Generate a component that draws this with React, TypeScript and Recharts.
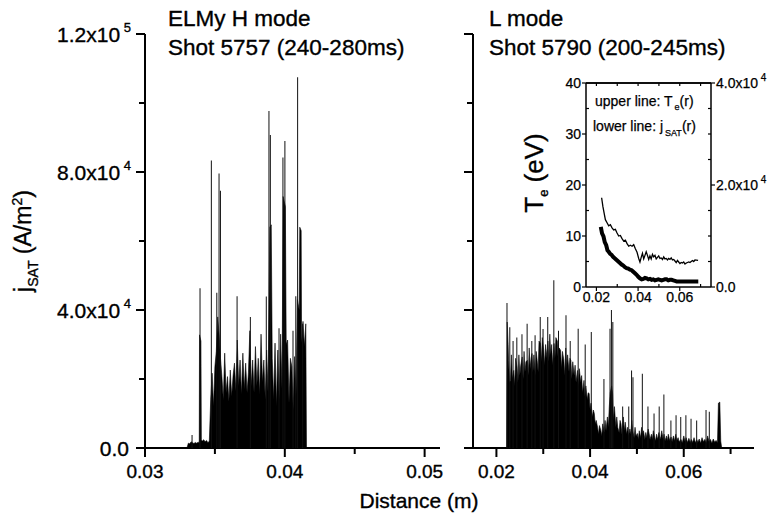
import React from 'react';
import { ComposedChart, Area, Bar, Line, XAxis, YAxis, ReferenceLine } from 'recharts';

const FONT = '"Liberation Sans", Arial, Helvetica, sans-serif';
// the scanned figure's lettering is a little heavier than plain Liberation Sans
const INK = { fill: '#000', stroke: '#000', strokeWidth: 0.35 };

// ELMy H mode, shot 5757: solid body of the jSAT trace [distance (m), A/m2]
const hBase: [number, number][] = [
  [0.033, 0], [0.0331, 1400], [0.0332, 1200], [0.0333, 1800], [0.0334, 1500], [0.0335, 1300],
  [0.0336, 1600], [0.0337, 1400], [0.0338, 1700], [0.03388, 1500], [0.0339, 32800], [0.034, 31000],
  [0.03403, 2300], [0.0341, 2000], [0.0342, 2400], [0.0343, 1800], [0.0344, 2200], [0.0345, 1500],
  [0.0346, 2000], [0.0347, 14000], [0.0348, 21700], [0.0349, 12000], [0.035, 23600], [0.0351, 28000],
  [0.0352, 38000], [0.0353, 33000], [0.0354, 26000], [0.0355, 20700], [0.0356, 14000], [0.0357, 27500],
  [0.0358, 16000], [0.0359, 20700], [0.036, 13500], [0.0361, 22600], [0.0362, 15000], [0.0363, 21000],
  [0.0364, 24600], [0.0365, 16500], [0.0366, 31300], [0.0367, 18000], [0.0368, 25500], [0.0369, 15500],
  [0.037, 27500], [0.0371, 17000], [0.0372, 24600], [0.0373, 16000], [0.0374, 22000], [0.0375, 34000],
  [0.0376, 18000], [0.0377, 25500], [0.0378, 16000], [0.0379, 29400], [0.038, 18000], [0.0381, 26000],
  [0.0382, 15500], [0.0383, 33000], [0.0384, 19000], [0.0385, 25500], [0.0386, 14000], [0.0387, 28400],
  [0.0388, 16000], [0.03893, 64000], [0.03903, 64700], [0.0391, 26000], [0.0392, 14000], [0.0393, 30400],
  [0.0394, 12000], [0.0395, 28400], [0.0396, 14000], [0.0397, 33000], [0.0398, 17000], [0.03988, 72900],
  [0.04004, 70000], [0.0401, 30000], [0.0402, 31300], [0.0403, 13000], [0.0404, 26000], [0.0405, 23600],
  [0.0406, 11000], [0.0407, 26500], [0.0408, 15000], [0.0409, 43000], [0.04103, 40000], [0.04107, 64000],
  [0.04117, 63000], [0.0412, 30400], [0.0413, 36700], [0.0414, 29400], [0.0415, 36000], [0.04155, 0],
];

// thin single-sample spikes on top of the body
const hSpikes: [number, number][] = [
  [0.03338, 3800], [0.03395, 46300], [0.03476, 83300], [0.03515, 45000], [0.03531, 79600],
  [0.03541, 74600], [0.0366, 44000], [0.03755, 38000], [0.03869, 43900], [0.03888, 97700],
  [0.03898, 90700], [0.0396, 34700], [0.03988, 84200], [0.04002, 89000], [0.0406, 34000],
  [0.0408, 44000], [0.04093, 107500], [0.04129, 36000],
];

// L mode, shot 5790
const lBase: [number, number][] = [
  [0.02218, 0], [0.0223, 36500], [0.0225, 30000], [0.0226, 25400], [0.0228, 19000], [0.023, 19600],
  [0.0232, 27000], [0.0234, 20000], [0.0237, 22500], [0.0239, 18000], [0.0241, 26000], [0.0244, 23500],
  [0.0246, 19000], [0.0248, 27000], [0.025, 21000], [0.0252, 24000], [0.0255, 26400], [0.0257, 20000],
  [0.0259, 28000], [0.0261, 22000], [0.0263, 25000], [0.0266, 25400], [0.0268, 21000], [0.027, 29000],
  [0.0272, 23000], [0.0274, 26000], [0.0276, 27400], [0.0278, 22000], [0.028, 27000], [0.0283, 21000],
  [0.0285, 28000], [0.0287, 25400], [0.0289, 22000], [0.0291, 31000], [0.0294, 30300], [0.0296, 25000],
  [0.0298, 32000], [0.0301, 28300], [0.0303, 24000], [0.0305, 30000], [0.0308, 26000], [0.031, 31000],
  [0.0312, 25000], [0.0314, 33000], [0.0316, 27000], [0.0318, 30000], [0.032, 24000], [0.0323, 30300],
  [0.0325, 26000], [0.0327, 32000], [0.033, 31000], [0.0332, 25000], [0.0334, 29000], [0.0337, 28300],
  [0.0339, 23000], [0.0341, 28000], [0.0344, 25400], [0.0346, 21000], [0.0348, 29000], [0.035, 23000],
  [0.0352, 27000], [0.0355, 22000], [0.0357, 26000], [0.0359, 25400], [0.0361, 20000], [0.0363, 25000],
  [0.0366, 21000], [0.0368, 24000], [0.037, 19000], [0.0373, 22500], [0.0375, 18000], [0.0377, 23000],
  [0.038, 19000], [0.0382, 21000], [0.0384, 16000], [0.0387, 19600], [0.0389, 15000], [0.0391, 18000],
  [0.0394, 14000], [0.0396, 16000], [0.0398, 15800], [0.04, 11000], [0.0402, 13000], [0.0405, 9000],
  [0.0407, 11000], [0.0409, 10000], [0.0411, 7000], [0.0413, 8000], [0.0416, 6000], [0.0418, 4000],
  [0.042, 6500], [0.0423, 5100], [0.0425, 3500], [0.0427, 7000], [0.043, 4500], [0.0432, 8000],
  [0.0434, 5000], [0.0437, 9000], [0.0439, 6000], [0.0441, 12000], [0.0443, 16000], [0.0446, 18000],
  [0.0448, 15800], [0.045, 8000], [0.0452, 12000], [0.0455, 6000], [0.0457, 9000], [0.0459, 6000],
  [0.0462, 4500], [0.0464, 8000], [0.0466, 7000], [0.0468, 4000], [0.0471, 9000], [0.0473, 5000],
  [0.0475, 7500], [0.0478, 4000], [0.048, 6000], [0.0482, 3500], [0.0485, 5500], [0.0487, 4000],
  [0.0489, 8000], [0.0491, 5000], [0.0494, 3000], [0.0496, 6000], [0.0498, 3500], [0.0501, 4200],
  [0.0503, 2500], [0.0505, 5000], [0.0508, 3000], [0.051, 6000], [0.0512, 4000], [0.0514, 5000],
  [0.0517, 2500], [0.0519, 4500], [0.0521, 3000], [0.0524, 5500], [0.0526, 4200], [0.0528, 2500],
  [0.0531, 4000], [0.0533, 2500], [0.0535, 5000], [0.0537, 3700], [0.054, 2000], [0.0542, 4000],
  [0.0544, 2500], [0.0547, 4500], [0.0549, 2500], [0.0551, 3200], [0.0553, 5000], [0.0556, 2500],
  [0.0558, 4000], [0.056, 2000], [0.0563, 3500], [0.0565, 2000], [0.0567, 4000], [0.057, 2200],
  [0.0573, 3200], [0.0575, 1800], [0.0578, 3500], [0.058, 2000], [0.0583, 4000], [0.0585, 2200],
  [0.0588, 3000], [0.059, 1800], [0.0594, 2500], [0.0597, 1500], [0.06, 3500], [0.0603, 1800],
  [0.0605, 3000], [0.0608, 1600], [0.0611, 2800], [0.0614, 1500], [0.0616, 2500], [0.0619, 1600],
  [0.0622, 3000], [0.0625, 1500], [0.0628, 2400], [0.063, 1600], [0.0633, 2600], [0.0636, 1400],
  [0.0639, 3000], [0.0642, 1800], [0.0645, 2500], [0.0648, 1600], [0.0651, 3500], [0.0654, 1800],
  [0.0657, 2500], [0.066, 1400], [0.0663, 2600], [0.0666, 1700], [0.0669, 2200], [0.0672, 1500],
  [0.0674, 13000], [0.0677, 13300], [0.0679, 2000], [0.0681, 0],
];

const lSpikes: [number, number][] = [
  [0.0223, 42000], [0.0229, 35000], [0.0236, 31000], [0.0244, 32000], [0.0255, 33000], [0.0266, 36000],
  [0.0276, 31000], [0.0283, 32700], [0.0294, 38000], [0.03, 34500], [0.031, 38000], [0.0323, 48600],
  [0.0333, 34000], [0.0349, 38500], [0.0358, 31000], [0.0375, 34600], [0.039, 30000], [0.0403, 33600],
  [0.043, 20000], [0.0443, 34600], [0.0446, 40000], [0.0449, 36500], [0.047, 12000], [0.0483, 12000],
  [0.0489, 22500], [0.0492, 20500], [0.0512, 21500], [0.0524, 12000], [0.0537, 10000], [0.0548, 12000],
  [0.0558, 15500], [0.0573, 8000], [0.0584, 9500], [0.0594, 9000], [0.0605, 9500], [0.0616, 8500],
  [0.0628, 8000], [0.0648, 11000], [0.0655, 10500],
];

// inset: radial profiles, Te in eV (left axis), jSAT in A/m2 (right axis)
const teProfile: [number, number][] = [
  [0.0225, 17.5], [0.0231, 15.8], [0.0237, 14.5], [0.0243, 13.2], [0.0251, 12.6], [0.0259, 12.0],
  [0.0267, 12.2], [0.0275, 11.6], [0.0283, 11.2], [0.0291, 11.3], [0.0299, 10.6], [0.0307, 10.0],
  [0.0315, 10.1], [0.0323, 9.5], [0.0331, 9.0], [0.0339, 9.2], [0.0347, 8.5], [0.0355, 8.0],
  [0.0363, 8.2], [0.0371, 8.0], [0.0379, 8.3], [0.0387, 7.5], [0.0395, 6.8], [0.0403, 5.6],
  [0.0409, 4.9], [0.0415, 5.8], [0.0421, 6.6], [0.0427, 5.5], [0.0433, 6.2], [0.0439, 6.9],
  [0.0445, 6.2], [0.0451, 5.4], [0.0457, 6.1], [0.0463, 5.5], [0.0469, 6.4], [0.0475, 5.9],
  [0.0481, 6.2], [0.0487, 5.5], [0.0493, 5.8], [0.0499, 6.1], [0.0505, 5.6], [0.0511, 5.7],
  [0.0517, 5.4], [0.0523, 5.9], [0.0529, 5.5], [0.0535, 5.6], [0.0541, 5.3], [0.0547, 5.6],
  [0.0553, 5.4], [0.0559, 5.7], [0.0565, 5.3], [0.0571, 5.4], [0.0577, 5.1], [0.0583, 4.8],
  [0.0589, 5.2], [0.0595, 4.9], [0.0601, 4.6], [0.0607, 4.8], [0.0613, 4.7], [0.0619, 4.9],
  [0.0625, 4.5], [0.0631, 4.7], [0.0637, 4.8], [0.0643, 4.9], [0.0649, 4.8], [0.0655, 5.0],
  [0.0661, 5.2], [0.0667, 5.0], [0.0673, 5.3], [0.0688, 5.2],
];

const jsatProfile: [number, number][] = [
  [0.0221, 11800], [0.0227, 10500], [0.0234, 9900], [0.024, 8800], [0.0247, 8200], [0.0253, 7200],
  [0.0259, 6900], [0.0266, 6500], [0.0273, 6300], [0.028, 5900], [0.0289, 5600], [0.0297, 5300],
  [0.0305, 5000], [0.0313, 4700], [0.0321, 4400], [0.0329, 4200], [0.0337, 3900], [0.0345, 3700],
  [0.0353, 3600], [0.0361, 3400], [0.0369, 3300], [0.0377, 3000], [0.0385, 2700], [0.0393, 2400],
  [0.0401, 2000], [0.0409, 1700], [0.0417, 1500], [0.0425, 1600], [0.0433, 1800], [0.0441, 1700],
  [0.0449, 1500], [0.0457, 1600], [0.0465, 1400], [0.0473, 1500], [0.0481, 1300], [0.0489, 1400],
  [0.0497, 1500], [0.0505, 1400], [0.0513, 1300], [0.0521, 1400], [0.0529, 1500], [0.0537, 1500],
  [0.0545, 1300], [0.0553, 1400], [0.0561, 1400], [0.0569, 1300], [0.0577, 1200], [0.0585, 1100],
  [0.0601, 1100], [0.0617, 1100], [0.0633, 1100], [0.0649, 1100], [0.0665, 1100], [0.0681, 1100],
  [0.0689, 1100],
];

const mainYTicks = [0, 20000, 40000, 60000, 80000, 100000, 120000];
const hXTicks = [0.03, 0.035, 0.04, 0.045, 0.05];
const hXLabels = [0.03, 0.04, 0.05];
const lXTicks = [0.02, 0.03, 0.04, 0.05, 0.06, 0.07];
const lXLabels = [0.02, 0.04, 0.06];
const insetTeTicks = [0, 5, 10, 15, 20, 25, 30, 35, 40];
const insetJTicks = [0, 5000, 10000, 15000, 20000, 25000, 30000, 35000, 40000];
const insetXTicks = [0.02, 0.03, 0.04, 0.05, 0.06, 0.07];
const insetXLabels = [0.02, 0.04, 0.06];

const rows = (pts: [number, number][]) => pts.map(([x, v]) => ({ x, v }));
const near = (list: number[], v: number) => list.some((t) => Math.abs(t - v) < 1e-9);

// "1.2x10^5" style label parts
function sci(v: number): [string, string] {
  if (v === 0) return ['0.0', ''];
  const e = Math.floor(Math.log10(v) + 1e-9);
  return [(v / Math.pow(10, e)).toFixed(1) + 'x10', String(e)];
}

function MainYTick(props: any) {
  const { x, y, payload, labels } = props;
  const v = payload.value;
  const major = v % 40000 === 0;
  const [m, e] = sci(v);
  return (
    <g>
      <line x1={x} x2={x - (major ? 9 : 6)} y1={y} y2={y} stroke="#000" strokeWidth={2} />
      {labels && major && (
        <text x={x - (e ? 14 : 16)} y={y + 8} textAnchor="end" fontSize={21} fontFamily={FONT} {...INK}>
          {m}
          {e && (
            <tspan dy={-10} fontSize={13}>
              {' ' + e}
            </tspan>
          )}
        </text>
      )}
    </g>
  );
}

function MainXTick(props: any) {
  const { x, y, payload, labels } = props;
  const major = near(labels, payload.value);
  return (
    <g>
      <line x1={x} x2={x} y1={y} y2={y + (major ? 9 : 6)} stroke="#000" strokeWidth={2} />
      {major && (
        <text x={x} y={y + 30} textAnchor="middle" fontSize={19} fontFamily={FONT} {...INK}>
          {payload.value.toFixed(2)}
        </text>
      )}
    </g>
  );
}

function InsetLeftTick(props: any) {
  const { x, y, payload } = props;
  const major = payload.value % 10 === 0;
  return (
    <g>
      <line x1={x} x2={major ? x - 4 : x + 3} y1={y} y2={y} stroke="#000" strokeWidth={1.2} />
      {major && (
        <text x={x - 5} y={y + 5} textAnchor="end" fontSize={14} fontFamily={FONT} {...INK} strokeWidth={0.25}>
          {payload.value}
        </text>
      )}
    </g>
  );
}

function InsetRightTick(props: any) {
  const { x, y, payload } = props;
  const major = payload.value % 20000 === 0;
  const [m, e] = sci(payload.value);
  return (
    <g>
      <line x1={x} x2={major ? x + 4 : x - 3} y1={y} y2={y} stroke="#000" strokeWidth={1.2} />
      {major && (
        <text x={x + 5} y={y + 5} textAnchor="start" fontSize={14} fontFamily={FONT} {...INK} strokeWidth={0.25}>
          {m}
          {e && (
            <tspan dy={-7} fontSize={10}>
              {' ' + e}
            </tspan>
          )}
        </text>
      )}
    </g>
  );
}

function InsetXTick(props: any) {
  const { x, y, payload } = props;
  const major = near(insetXLabels, payload.value);
  return (
    <g>
      <line x1={x} x2={x} y1={y} y2={major ? y + 4 : y - 3} stroke="#000" strokeWidth={1.2} />
      {major && (
        <text x={x} y={y + 15} textAnchor="middle" fontSize={14} fontFamily={FONT} {...INK} strokeWidth={0.25}>
          {payload.value.toFixed(2)}
        </text>
      )}
    </g>
  );
}

// small inward ticks along the top edge of the inset box
function InsetTopTick(props: any) {
  const { x, y } = props;
  return <line x1={x} x2={x} y1={y} y2={y + 3} stroke="#000" strokeWidth={1.2} />;
}

type PanelProps = {
  left: number;
  width: number;
  yAxisWidth: number;
  marginLeft: number;
  marginRight: number;
  domain: [number, number];
  xTicks: number[];
  xLabels: number[];
  yLabels: boolean;
  base: [number, number][];
  spikes: [number, number][];
};

function SpikePanel(p: PanelProps) {
  const H = 526;
  return (
    <>
      <div style={{ position: 'absolute', left: p.left, top: 0 }}>
        <ComposedChart
          width={p.width}
          height={H}
          data={rows(p.base)}
          margin={{ top: 34, right: p.marginRight, bottom: 38, left: p.marginLeft }}
        >
          <XAxis
            dataKey="x"
            type="number"
            domain={p.domain}
            allowDataOverflow
            ticks={p.xTicks}
            interval={0}
            height={40}
            tickSize={0}
            tickMargin={0}
            tickLine={false}
            axisLine={{ stroke: '#000', strokeWidth: 2 }}
            tick={(t: any) => <MainXTick {...t} labels={p.xLabels} />}
          />
          <YAxis
            type="number"
            domain={[0, 120000]}
            allowDataOverflow
            ticks={mainYTicks}
            interval={0}
            width={p.yAxisWidth}
            tickSize={0}
            tickMargin={0}
            tickLine={false}
            axisLine={{ stroke: '#000', strokeWidth: 2 }}
            tick={(t: any) => <MainYTick {...t} labels={p.yLabels} />}
          />
          <Area
            dataKey="v"
            type="linear"
            stroke="#000"
            strokeWidth={0.6}
            fill="#000"
            fillOpacity={1}
            dot={false}
            activeDot={false}
            isAnimationActive={false}
          />
        </ComposedChart>
      </div>
      <div style={{ position: 'absolute', left: p.left, top: 0 }}>
        <ComposedChart
          width={p.width}
          height={H}
          data={rows(p.spikes)}
          margin={{ top: 34, right: p.marginRight, bottom: 78, left: p.marginLeft + p.yAxisWidth }}
        >
          <XAxis dataKey="x" type="number" domain={p.domain} allowDataOverflow hide />
          <YAxis type="number" domain={[0, 120000]} allowDataOverflow hide />
          <Bar dataKey="v" fill="#111" barSize={1} isAnimationActive={false} />
        </ComposedChart>
      </div>
    </>
  );
}

function Inset() {
  return (
    <div style={{ position: 'absolute', left: 540, top: 60 }}>
      <ComposedChart width={230} height={260} margin={{ top: 21, right: 4, bottom: 8, left: 6 }}>
        <XAxis
          dataKey="x"
          type="number"
          domain={[0.015, 0.075]}
          allowDataOverflow
          ticks={insetXTicks}
          interval={0}
          height={25}
          tickSize={0}
          tickMargin={0}
          tickLine={false}
          axisLine={{ stroke: '#000', strokeWidth: 1.5 }}
          tick={(t: any) => <InsetXTick {...t} />}
        />
        <XAxis
          xAxisId="top"
          orientation="top"
          dataKey="x"
          type="number"
          domain={[0.015, 0.075]}
          allowDataOverflow
          ticks={insetXTicks}
          interval={0}
          height={2}
          tickSize={0}
          tickMargin={0}
          tickLine={false}
          axisLine={{ stroke: '#000', strokeWidth: 1.5 }}
          tick={(t: any) => <InsetTopTick {...t} />}
        />
        <YAxis
          yAxisId="te"
          type="number"
          domain={[0, 40]}
          allowDataOverflow
          ticks={insetTeTicks}
          interval={0}
          width={40}
          tickSize={0}
          tickMargin={0}
          tickLine={false}
          axisLine={{ stroke: '#000', strokeWidth: 1.5 }}
          tick={(t: any) => <InsetLeftTick {...t} />}
        />
        <YAxis
          yAxisId="j"
          orientation="right"
          type="number"
          domain={[0, 40000]}
          allowDataOverflow
          ticks={insetJTicks}
          interval={0}
          width={55}
          tickSize={0}
          tickMargin={0}
          tickLine={false}
          axisLine={{ stroke: '#000', strokeWidth: 1.5 }}
          tick={(t: any) => <InsetRightTick {...t} />}
        />
        <ReferenceLine yAxisId="te" y={40} stroke="#000" strokeWidth={1.5} />
        <Line
          yAxisId="te"
          data={rows(teProfile)}
          dataKey="v"
          type="linear"
          stroke="#000"
          strokeWidth={1.3}
          dot={false}
          activeDot={false}
          isAnimationActive={false}
        />
        <Line
          yAxisId="j"
          data={rows(jsatProfile)}
          dataKey="v"
          type="linear"
          stroke="#000"
          strokeWidth={4}
          dot={false}
          activeDot={false}
          isAnimationActive={false}
        />
      </ComposedChart>
    </div>
  );
}

function Labels() {
  const t = { fontFamily: FONT, ...INK };
  return (
    <svg width={770} height={526} style={{ position: 'absolute', left: 0, top: 0, pointerEvents: 'none' }}>
      <text x={168} y={26} fontSize={22.5} {...t}>ELMy H mode</text>
      <text x={168} y={55} fontSize={22.5} {...t}>Shot 5757 (240-280ms)</text>
      <text x={489} y={26} fontSize={22.5} {...t}>L mode</text>
      <text x={489} y={55} fontSize={22.5} {...t}>Shot 5790 (200-245ms)</text>
      <text x={419} y={508} fontSize={21} textAnchor="middle" {...t}>Distance (m)</text>
      <text x={31} y={241} fontSize={23} textAnchor="middle" transform="rotate(-90 31 241)" {...t}>
        j<tspan dy={7} fontSize={14}>SAT</tspan>
        <tspan dy={-7}> (A/m</tspan>
        <tspan dy={-9} fontSize={14}>2</tspan>
        <tspan dy={9}>)</tspan>
      </text>
      <text x={543} y={173} fontSize={26} textAnchor="middle" transform="rotate(-90 543 173)" {...t}>
        T<tspan dy={5} fontSize={13}>e</tspan>
        <tspan dy={-5}> (eV)</tspan>
      </text>
      <text x={595} y={106} fontSize={14} {...t} strokeWidth={0.25}>
        upper line: T<tspan dx={2} dy={4} fontSize={9}>e</tspan>
        <tspan dy={-4}>(r)</tspan>
      </text>
      <text x={593} y={131} fontSize={14} {...t} strokeWidth={0.25}>
        lower line: j<tspan dx={2} dy={5} fontSize={9}>SAT</tspan>
        <tspan dy={-5}>(r)</tspan>
      </text>
    </svg>
  );
}

export default function App() {
  return (
    <div style={{ position: 'absolute', left: 0, top: 0, width: 770, height: 526, background: '#fff', fontFamily: FONT }}>
      <SpikePanel
        left={0}
        width={460}
        yAxisWidth={140}
        marginLeft={5}
        marginRight={20}
        domain={[0.03, 0.0511]}
        xTicks={hXTicks}
        xLabels={hXLabels}
        yLabels
        base={hBase}
        spikes={hSpikes}
      />
      <SpikePanel
        left={440}
        width={330}
        yAxisWidth={20}
        marginLeft={13}
        marginRight={16}
        domain={[0.015, 0.075]}
        xTicks={lXTicks}
        xLabels={lXLabels}
        yLabels={false}
        base={lBase}
        spikes={lSpikes}
      />
      <Inset />
      <Labels />
    </div>
  );
}
